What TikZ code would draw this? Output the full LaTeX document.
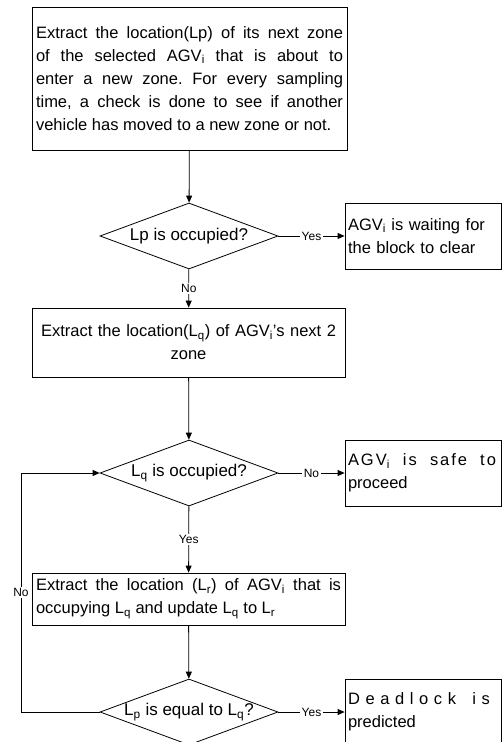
\documentclass[tikz,border=0pt]{standalone}
\usepackage{fontspec}
\setmainfont{Liberation Sans}
\usetikzlibrary{shapes.geometric,arrows.meta}
\frenchspacing

\tikzset{
  procbox/.style={draw, line width=0.8pt, inner sep=4pt, font=\fontsize{16.5}{23}\selectfont,
    execute at begin node=\setlength{\baselineskip}{23pt}},
  sidebox/.style={draw, line width=0.8pt, inner sep=3pt, minimum width=156pt, minimum height=66pt,
    text width=150pt, align=left, font=\fontsize{16.5}{23}\selectfont,
    execute at begin node=\setlength{\baselineskip}{23pt}},
  decision/.style={draw, diamond, line width=0.8pt, inner sep=0pt, aspect=2.7,
    minimum width=178pt, minimum height=66pt, font=\fontsize{17}{18}\selectfont},
  flow/.style={line width=0.8pt, -{Triangle[length=7pt,width=6pt]}},
  lbl/.style={fill=white, inner sep=1.5pt, font=\fontsize{12}{14}\selectfont}
}

\begin{document}
\begin{tikzpicture}[x=1pt, y=-1pt]
    \useasboundingbox (0,0) rectangle (503,742);

    % Main column
    \node[procbox, minimum height=143pt, text width=307pt, align=justify] (extract) at (189.5,78.5)
      {Extract the location(Lp) of its next zone\linebreak
       of the selected AGV\textsubscript{i} that is about to\linebreak
       enter a new zone. For every sampling\linebreak
       time, a check is done to see if another\linebreak
       vehicle has moved to a new zone or not.};
    \node[decision] (occ) at (189,236) {Lp is occupied?};
    \node[procbox, minimum height=69pt, text width=305pt, align=center] (next) at (188.5,342.5)
      {Extract the location(L\textsubscript{q}) of AGV\textsubscript{i}'s next 2\\zone};
    \node[decision] (occq) at (189,473) {L\textsubscript{q} is occupied?};
    \node[procbox, minimum height=52pt, text width=305pt, align=justify] (update) at (188.5,599)
      {Extract the location (L\textsubscript{r}) of AGV\textsubscript{i} that is\linebreak
       occupying L\textsubscript{q} and update L\textsubscript{q} to L\textsubscript{r}};
    \node[decision] (equal) at (189,712) {L\textsubscript{p} is equal to L\textsubscript{q}?};

    % Outcomes on the right
    \node[sidebox] (wait) at (423,236)
      {AGV\textsubscript{i} is waiting for\\the block to clear};
    \node[sidebox] (safe) at (423,473)
      {{\addfontfeature{LetterSpace=12}\makebox[148pt][l]{AGV\textsubscript{i}\hfill is\hfill safe\hfill to}}\\proceed};
    \node[sidebox] (dead) at (423,712)
      {{\addfontfeature{LetterSpace=34}\makebox[142pt][l]{Deadlock\hfill is}}\\predicted};

    % Loop back corners
    \coordinate (loopbot) at (21,712);
    \coordinate (looptop) at (21,473);

    % Connectors
    \draw[flow] (extract) -- (occ);
    \draw[flow] (occ) -- node[lbl] {Yes} (wait);
    \draw[flow] (occ) -- node[lbl] {No} (next);
    \draw[flow] (next) -- (occq);
    \draw[flow] (occq) -- node[lbl] {No} (safe);
    \draw[flow] (occq) -- node[lbl] {Yes} (update);
    \draw[flow] (update) -- (equal);
    \draw[flow] (equal) -- node[lbl] {Yes} (dead);
    \draw[flow] (equal.west) -- (loopbot) -- node[lbl] {No} (looptop) -- (occq.west);
\end{tikzpicture}
\end{document}
